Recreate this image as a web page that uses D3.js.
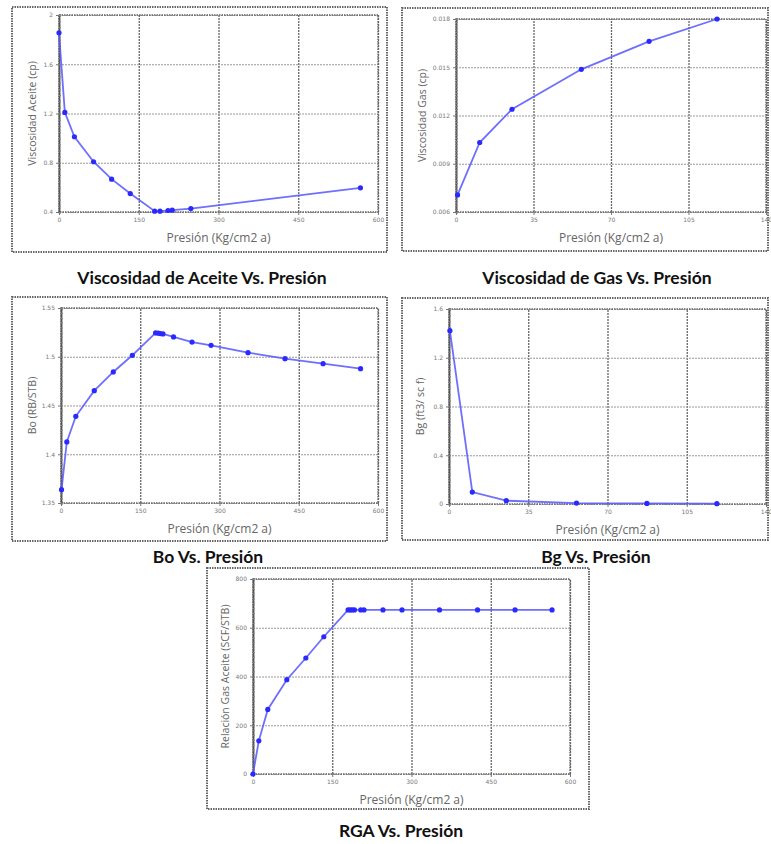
<!DOCTYPE html>
<html>
<head>
<meta charset="utf-8">
<script src="https://cdn.jsdelivr.net/npm/d3@7"></script>
<style>
  body { margin: 0; background: #fff; }
  svg { display: block; }
</style>
</head>
<body>
<svg id="chart" width="771" height="844"></svg>
<script>
// --- data ---
// Viscosidad de aceite
const aceitePresion = [0, 11, 29, 65, 99, 134, 180, 190, 205, 213, 248, 567];
const aceiteVisc = [1.856, 1.209, 1.011, 0.808, 0.667, 0.55, 0.407, 0.407, 0.412, 0.415, 0.428, 0.596];
const aceiteXTicks = [0, 150, 300, 450, 600];
const aceiteYTicks = [0.4, 0.8, 1.2, 1.6, 2];

// Viscosidad de gas
const gasPresion = [0.7, 10.7, 25.3, 56.6, 87.2, 117.9];
const gasVisc = [0.00706, 0.01032, 0.01239, 0.01487, 0.01661, 0.018];
const gasXTicks = [0, 35, 70, 105, 140];
const gasYTicks = [0.006, 0.009, 0.012, 0.015, 0.018];

// Bo
const boPresion = [1, 11, 28, 63, 99, 135, 179, 184, 188, 193, 213, 248, 284, 354, 424, 496, 567];
const boValor = [1.3637, 1.4126, 1.4389, 1.4652, 1.4844, 1.5015, 1.5244, 1.5242, 1.5238, 1.5234, 1.5203, 1.5151, 1.5117, 1.5042, 1.498, 1.4929, 1.4878];
const boXTicks = [0, 150, 300, 450, 600];
const boYTicks = [1.35, 1.4, 1.45, 1.5, 1.55];

// Bg
const bgPresion = [0.4, 10.3, 25.3, 56.3, 87.4, 118.3];
const bgValor = [1.422, 0.098, 0.027, 0.008, 0.005, 0.003];
const bgXTicks = [0, 35, 70, 105, 140];
const bgYTicks = [0, 0.4, 0.8, 1.2, 1.6];

// RGA
const rgaPresion = [0, 11, 28, 64, 100, 134, 180, 184, 188, 192, 204, 210, 246, 282, 353, 425, 496, 566];
const rgaValor = [0, 136, 265, 387, 476, 563, 673, 673, 673, 673, 673, 673, 673, 673, 673, 673, 673, 673];
const rgaXTicks = [0, 150, 300, 450, 600];
const rgaYTicks = [0, 200, 400, 600, 800];

const xTitle = "Presión (Kg/cm2 a)";

const panels = [
  { title: "Viscosidad de Aceite Vs. Presión", yTitle: "Viscosidad Aceite (cp)",
    xs: aceitePresion, ys: aceiteVisc, xTicks: aceiteXTicks, yTicks: aceiteYTicks,
    frame: [12, 7, 387, 252], plot: [59, 15, 378, 212], yTitleX: 32, titleX: 202, titleY: 284 },
  { title: "Viscosidad de Gas Vs. Presión", yTitle: "Viscosidad Gas (cp)",
    xs: gasPresion, ys: gasVisc, xTicks: gasXTicks, yTicks: gasYTicks,
    frame: [402, 8, 768, 251], plot: [456, 19, 766, 212], yTitleX: 422, titleX: 597, titleY: 284 },
  { title: "Bo Vs. Presión", yTitle: "Bo (RB/STB)",
    xs: boPresion, ys: boValor, xTicks: boXTicks, yTicks: boYTicks,
    frame: [12, 297, 387, 541], plot: [61, 308, 378, 503], yTitleX: 32, titleX: 208, titleY: 563 },
  { title: "Bg Vs. Presión", yTitle: "Bg (ft3/ sc f)",
    xs: bgPresion, ys: bgValor, xTicks: bgXTicks, yTicks: bgYTicks,
    frame: [402, 298, 768, 540], plot: [449, 309, 766, 504], yTitleX: 420, titleX: 596, titleY: 563 },
  { title: "RGA Vs. Presión", yTitle: "Relación Gas Aceite (SCF/STB)",
    xs: rgaPresion, ys: rgaValor, xTicks: rgaXTicks, yTicks: rgaYTicks,
    frame: [207, 568, 589, 809], plot: [253, 579, 570, 774], yTitleX: 225, titleX: 401, titleY: 837 }
];

const svg = d3.select("#chart");
const fmt = d3.format("~g");

panels.forEach(p => {
  const [fx0, fy0, fx1, fy1] = p.frame;
  const [px0, py0, px1, py1] = p.plot;
  const g = svg.append("g");

  // outer box
  g.append("rect")
    .attr("x", fx0).attr("y", fy0)
    .attr("width", fx1 - fx0).attr("height", fy1 - fy0)
    .attr("fill", "#fff")
    .attr("stroke", "#666")
    .attr("stroke-width", 2)
    .attr("stroke-dasharray", "1.5,1");

  const x = d3.scaleLinear()
    .domain(d3.extent(p.xTicks))
    .range([px0, px1]);
  const y = d3.scaleLinear()
    .domain(d3.extent(p.yTicks))
    .range([py1, py0]);

  // grid
  g.append("g")
    .attr("transform", `translate(0,${py1})`)
    .call(d3.axisBottom(x).tickValues(p.xTicks).tickSize(-(py1 - py0)).tickFormat(""))
    .call(a => a.select(".domain").remove())
    .call(a => a.selectAll("line")
      .attr("stroke", "#666").attr("stroke-width", 1.3).attr("stroke-dasharray", "2,1"));
  g.append("g")
    .attr("transform", `translate(${px0},0)`)
    .call(d3.axisLeft(y).tickValues(p.yTicks).tickSize(-(px1 - px0)).tickFormat(""))
    .call(a => a.select(".domain").remove())
    .call(a => a.selectAll("line")
      .attr("stroke", "#999").attr("stroke-width", 1.2).attr("stroke-dasharray", "2,1"));

  // plot border
  g.append("rect")
    .attr("x", px0).attr("y", py0)
    .attr("width", px1 - px0).attr("height", py1 - py0)
    .attr("fill", "none")
    .attr("stroke", "#666")
    .attr("stroke-width", 1.3)
    .attr("stroke-dasharray", "1.5,1");

  // ruler-like minor ticks on the left axis
  g.append("g")
    .attr("transform", `translate(${px0},0)`)
    .call(d3.axisRight(y).ticks(40).tickSize(2).tickFormat(""))
    .call(a => a.select(".domain").attr("stroke", "#555").attr("stroke-width", 1.8))
    .call(a => a.selectAll("line").attr("stroke", "#888"));

  // tick labels
  g.append("g")
    .attr("transform", `translate(0,${py1})`)
    .call(d3.axisBottom(x).tickValues(p.xTicks).tickSize(3).tickFormat(fmt))
    .call(a => a.select(".domain").remove())
    .call(a => a.selectAll("line").attr("stroke", "#777"))
    .call(a => a.selectAll("text")
      .attr("font-family", "DejaVu Sans").attr("font-size", 6).attr("fill", "#777"));
  g.append("g")
    .attr("transform", `translate(${px0},0)`)
    .call(d3.axisLeft(y).tickValues(p.yTicks).tickSize(3).tickFormat(fmt))
    .call(a => a.select(".domain").remove())
    .call(a => a.selectAll("line").attr("stroke", "#777"))
    .call(a => a.selectAll("text")
      .attr("font-family", "DejaVu Sans").attr("font-size", 6).attr("fill", "#777"));

  // axis titles
  g.append("text")
    .attr("x", (px0 + px1) / 2)
    .attr("y", py1 + 30)
    .attr("text-anchor", "middle")
    .attr("font-family", "Open Sans").attr("font-size", 12)
    .attr("fill", "#666")
    .text(xTitle);
  g.append("text")
    .attr("transform", `translate(${p.yTitleX},${(py0 + py1) / 2}) rotate(-90)`)
    .attr("text-anchor", "middle")
    .attr("dy", "0.35em")
    .attr("font-family", "Open Sans").attr("font-size", 10.5)
    .attr("fill", "#666")
    .text(p.yTitle);

  // series
  const pts = p.xs.map((v, i) => [v, p.ys[i]]);
  g.append("path")
    .datum(pts)
    .attr("fill", "none")
    .attr("stroke", "#5555ff")
    .attr("stroke-opacity", 0.85)
    .attr("stroke-width", 1.8)
    .attr("d", d3.line().x(d => x(d[0])).y(d => y(d[1])));
  g.selectAll("circle.pt")
    .data(pts)
    .join("circle")
    .attr("class", "pt")
    .attr("cx", d => x(d[0]))
    .attr("cy", d => y(d[1]))
    .attr("r", 2.6)
    .attr("fill", "#2a2aff");

  // panel caption
  svg.append("text")
    .attr("x", p.titleX)
    .attr("y", p.titleY)
    .attr("text-anchor", "middle")
    .attr("font-family", "Lato").attr("font-weight", "bold")
    .attr("font-size", 17.5)
    .attr("fill", "#111")
    .text(p.title);
});
</script>
</body>
</html>
